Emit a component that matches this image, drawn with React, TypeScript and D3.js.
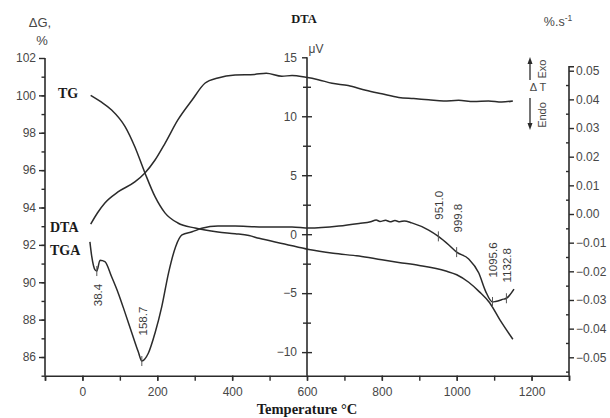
import React, { useEffect, useRef } from 'react';
import * as d3 from 'd3';

// TG (%), DTA (uV) and TGA (%/s) traces
const tgTemp = [22, 50, 78, 114, 140, 167, 194, 221, 255, 301, 362, 408, 445, 472, 540, 605, 670, 739, 800, 845, 900, 971, 1000, 1032, 1060, 1088, 1115, 1150];
const tgValue = [100.0, 99.65, 99.22, 98.33, 97.25, 95.85, 94.58, 93.7, 93.17, 92.9, 92.69, 92.6, 92.5, 92.35, 92.05, 91.75, 91.55, 91.4, 91.2, 91.06, 90.9, 90.6, 90.4, 90.0, 89.5, 88.9, 88.0, 86.95];

const dtaTemp = [22, 40, 60, 95, 140, 167, 194, 221, 255, 293, 328, 362, 408, 460, 491, 533, 560, 597, 630, 667, 710, 757, 800, 845, 885, 925, 965, 1005, 1045, 1085, 1120, 1150];
const dtaValue = [0.85, 1.8, 2.65, 3.58, 4.43, 5.19, 6.29, 7.73, 9.69, 11.38, 12.82, 13.25, 13.5, 13.55, 13.65, 13.4, 13.45, 13.3, 13.1, 12.8, 12.6, 12.2, 11.9, 11.6, 11.5, 11.4, 11.3, 11.35, 11.25, 11.3, 11.2, 11.3];

const tgaTemp = [20, 25, 33.7, 38.4, 47, 60, 78, 96, 114, 132, 149, 158.7, 176, 194, 212, 230, 249, 266, 293, 319, 362, 408, 472, 560, 605, 685, 739, 770, 785, 795, 810, 822, 835, 848, 860, 880, 925, 951.0, 979, 999.8, 1032, 1059, 1077, 1095.6, 1104, 1125, 1132.8, 1153];
const tgaValue = [-0.0097, -0.0149, -0.0195, -0.0199, -0.0161, -0.0166, -0.0219, -0.0277, -0.0345, -0.0415, -0.048, -0.0513, -0.0486, -0.0415, -0.0323, -0.0206, -0.0114, -0.0073, -0.0062, -0.005, -0.0042, -0.0042, -0.0045, -0.0045, -0.0049, -0.0042, -0.0033, -0.0027, -0.0021, -0.0026, -0.0022, -0.0027, -0.0023, -0.0027, -0.0024, -0.0031, -0.0056, -0.0078, -0.0108, -0.0133, -0.0157, -0.0206, -0.0269, -0.0307, -0.0305, -0.0297, -0.0294, -0.0262];

// marked peak temperatures on the TGA trace
const peakTemps = [38.4, 158.7, 951.0, 999.8, 1095.6, 1132.8];
const peakLabels = ['38.4', '158.7', '951.0', '999.8', '1095.6', '1132.8'];

const xTicks = [0, 200, 400, 600, 800, 1000, 1200];
const tgTicks = [86, 88, 90, 92, 94, 96, 98, 100, 102];
const dtaTicks = [-10, -5, 0, 5, 10, 15];
const tgaTicks = [-0.05, -0.04, -0.03, -0.02, -0.01, 0, 0.01, 0.02, 0.03, 0.04, 0.05];

const INK = '#2b2b2b';
const TICK_TEXT = '#474747';
const SANS = '"Liberation Sans", Arial, sans-serif';
const SERIF = '"Liberation Serif", "Times New Roman", serif';

export default function App() {
  const ref = useRef<SVGSVGElement | null>(null);

  useEffect(() => {
    const width = 610;
    const height = 418;
    const svg = d3.select(ref.current);
    svg.selectAll('*').remove();
    svg.append('rect').attr('width', width).attr('height', height).attr('fill', '#fff');

    const x = d3.scaleLinear().domain([-100, 1300]).range([45, 569]);
    const yTG = d3.scaleLinear().domain([85, 102]).range([375.7, 58]);
    const yDTA = d3.scaleLinear().domain([-12, 15]).range([375.7, 57.3]);
    const yTGA = d3.scaleLinear().domain([-0.05642, 0.0514]).range([375.7, 66.7]);

    const styleAxis = (g: any, fontSize = 12) => {
      g.select('.domain').attr('stroke', INK).attr('stroke-width', 1.6);
      g.selectAll('.tick line').attr('stroke', INK).attr('stroke-width', 1.4);
      g.selectAll('text').attr('fill', TICK_TEXT).style('font-family', SANS).style('font-size', fontSize + 'px');
    };

    // bottom axis
    const xMinor = d3.range(-100, 1301, 100);
    svg.append('g')
      .attr('transform', `translate(0,${yTG(85)})`)
      .call(d3.axisBottom(x).tickValues(xMinor).tickSize(5).tickFormat(() => ''))
      .call(g => styleAxis(g));
    svg.append('g')
      .attr('transform', `translate(0,${yTG(85)})`)
      .call(d3.axisBottom(x).tickValues(xTicks).tickSize(5).tickPadding(7).tickFormat(d3.format('d')))
      .call(g => styleAxis(g))
      .call(g => g.select('.domain').remove());

    // left axis (TG %)
    svg.append('g')
      .attr('transform', `translate(${x(-100)},0)`)
      .call(d3.axisLeft(yTG).tickValues(d3.range(85, 102, 1)).tickSize(3.5).tickFormat(() => ''))
      .call(g => styleAxis(g))
      .call(g => g.select('.domain').attr('d', `M0,${yTG(85)}V${yTG(102)}`));
    svg.append('g')
      .attr('transform', `translate(${x(-100)},0)`)
      .call(d3.axisLeft(yTG).tickValues(tgTicks).tickSize(6).tickPadding(3).tickFormat(d3.format('d')))
      .call(g => styleAxis(g))
      .call(g => g.select('.domain').remove());

    // middle axis (DTA uV), ticks cross the line
    const xMid = x(600);
    const dtaMinor = [12.5, 7.5, 2.5, -2.5, -7.5];
    svg.append('g')
      .attr('transform', `translate(${xMid},0)`)
      .call(d3.axisLeft(yDTA).tickValues(dtaTicks).tickSize(5).tickPadding(5).tickFormat(d3.format('d')))
      .call(g => styleAxis(g))
      .call(g => g.select('.domain').attr('d', `M0,${yDTA(-12)}V${yDTA(15)}`));
    svg.append('g')
      .attr('transform', `translate(${xMid},0)`)
      .call(d3.axisRight(yDTA).tickValues(dtaTicks.filter(d => d < 15)).tickSize(5).tickFormat(() => ''))
      .call(g => styleAxis(g))
      .call(g => g.select('.domain').remove());
    svg.append('g')
      .attr('transform', `translate(${xMid},0)`)
      .call(d3.axisLeft(yDTA).tickValues(dtaMinor).tickSize(4).tickFormat(() => ''))
      .call(g => styleAxis(g))
      .call(g => g.select('.domain').remove());
    svg.append('g')
      .attr('transform', `translate(${xMid},0)`)
      .call(d3.axisRight(yDTA).tickValues(dtaMinor).tickSize(4).tickFormat(() => ''))
      .call(g => styleAxis(g))
      .call(g => g.select('.domain').remove());

    // right axis (TGA %/s)
    const xRight = x(1300);
    svg.append('g')
      .attr('transform', `translate(${xRight},0)`)
      .call(d3.axisRight(yTGA).tickValues(tgaTicks).tickSize(5).tickPadding(2).tickFormat(d3.format('.2f')))
      .call(g => styleAxis(g))
      .call(g => g.select('.domain').attr('d', `M5,${yTGA(0.0514)}H0V${yTGA(-0.05642)}`));
    svg.append('g')
      .attr('transform', `translate(${xRight},0)`)
      .call(d3.axisLeft(yTGA).tickValues(d3.range(-0.055, 0.05, 0.01)).tickSize(3).tickFormat(() => ''))
      .call(g => styleAxis(g))
      .call(g => g.select('.domain').remove());

    // curves
    const drawLine = (temps: number[], values: number[], y: any) => {
      const line = d3.line<number>()
        .x((_, i) => x(temps[i]))
        .y(v => y(v))
        .curve(d3.curveMonotoneX);
      svg.append('path')
        .attr('d', line(values))
        .attr('fill', 'none')
        .attr('stroke', INK)
        .attr('stroke-width', 1.5)
        .attr('stroke-linejoin', 'round');
    };
    drawLine(tgTemp, tgValue, yTG);
    drawLine(dtaTemp, dtaValue, yDTA);
    drawLine(tgaTemp, tgaValue, yTGA);

    // peak marks and rotated labels
    const labelShift = [24, -40, -31, -34, -42, -33];
    peakTemps.forEach((t, i) => {
      const idx = tgaTemp.indexOf(t);
      const px = x(t);
      const py = yTGA(tgaValue[idx]);
      svg.append('line')
        .attr('x1', px).attr('x2', px)
        .attr('y1', py - 5).attr('y2', py + 5)
        .attr('stroke', '#555').attr('stroke-width', 1);
      svg.append('text')
        .attr('transform', `translate(${px + 1},${py + labelShift[i]}) rotate(-90)`)
        .attr('text-anchor', 'middle')
        .attr('dominant-baseline', 'central')
        .attr('fill', '#3a3a3a')
        .style('font-family', SANS)
        .style('font-size', '11.5px')
        .text(peakLabels[i]);
    });

    // curve names
    const serifText = (tx: number, ty: number, s: string, size = 12, anchor = 'start') =>
      svg.append('text')
        .attr('x', tx).attr('y', ty)
        .attr('text-anchor', anchor)
        .attr('fill', '#1a1a1a')
        .style('font-family', SERIF)
        .style('font-weight', 'bold')
        .style('font-size', size + 'px')
        .text(s);
    serifText(58, 98, 'TG', 14);
    serifText(50, 232, 'DTA', 14);
    serifText(50, 255, 'TGA', 14);
    serifText(xMid - 3, 23, 'DTA', 12.5, 'middle');
    serifText(xMid, 414, 'Temperature °C', 14.5, 'middle');

    // axis unit captions
    const sansText = (tx: number, ty: number, s: string, size = 11, anchor = 'middle') =>
      svg.append('text')
        .attr('x', tx).attr('y', ty)
        .attr('text-anchor', anchor)
        .attr('fill', TICK_TEXT)
        .style('font-family', SANS)
        .style('font-size', size + 'px')
        .text(s);
    sansText(40, 27, 'ΔG,', 13);
    sansText(42, 45, '%', 13);
    sansText(xMid + 9, 53, 'μV', 12);
    const unit = sansText(558, 26, '%.s', 12.5);
    unit.append('tspan').attr('dy', -5).style('font-size', '8.5px').text('-1');

    // Exo / Endo marker
    const xa = 530;
    svg.append('line').attr('x1', xa).attr('x2', xa).attr('y1', 80).attr('y2', 62)
      .attr('stroke', INK).attr('stroke-width', 1.3);
    svg.append('path').attr('d', `M${xa - 2.5},64 L${xa},57 L${xa + 2.5},64 Z`).attr('fill', INK);
    svg.append('line').attr('x1', xa).attr('x2', xa).attr('y1', 98).attr('y2', 125)
      .attr('stroke', INK).attr('stroke-width', 1.3);
    svg.append('path').attr('d', `M${xa - 2.5},123 L${xa},130 L${xa + 2.5},123 Z`).attr('fill', INK);
    svg.append('text')
      .attr('transform', 'translate(546,69) rotate(-90)')
      .attr('text-anchor', 'middle')
      .attr('fill', TICK_TEXT)
      .style('font-family', SANS).style('font-size', '11px')
      .text('Exo');
    svg.append('text')
      .attr('transform', 'translate(546,115) rotate(-90)')
      .attr('text-anchor', 'middle')
      .attr('fill', TICK_TEXT)
      .style('font-family', SANS).style('font-size', '11px')
      .text('Endo');
    sansText(538, 91, 'Δ T', 11);
  }, []);

  return (
    <svg ref={ref} width={610} height={418} viewBox="0 0 610 418"
      style={{ position: 'absolute', left: 0, top: 0, display: 'block' }} />
  );
}
